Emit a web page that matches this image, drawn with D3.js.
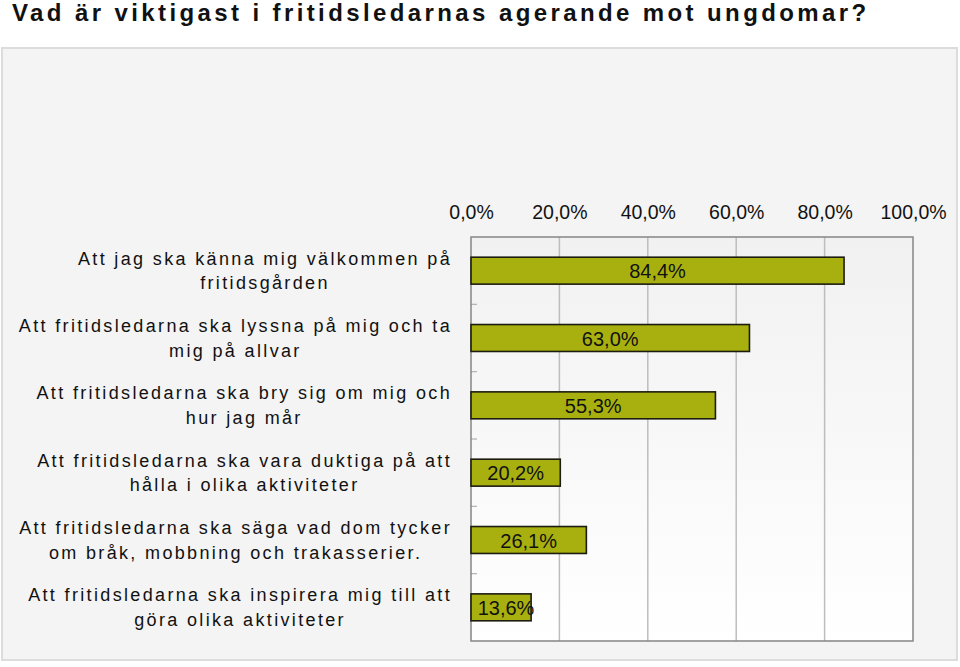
<!DOCTYPE html>
<html>
<head>
<meta charset="utf-8">
<script src="https://cdn.jsdelivr.net/npm/d3@7"></script>
<style>
  html, body { margin: 0; padding: 0; background: #ffffff; }
  svg { display: block; }
</style>
</head>
<body>
<svg id="chart" width="960" height="667"></svg>
<script>
const title = "Vad är viktigast i fritidsledarnas agerande mot ungdomar?";
const categories = [
  ["Att jag ska känna mig välkommen på", "fritidsgården"],
  ["Att fritidsledarna ska lyssna på mig och ta", "mig på allvar"],
  ["Att fritidsledarna ska bry sig om mig och", "hur jag mår"],
  ["Att fritidsledarna ska vara duktiga på att", "hålla i olika aktiviteter"],
  ["Att fritidsledarna ska säga vad dom tycker", "om bråk, mobbning och trakasserier."],
  ["Att fritidsledarna ska inspirera mig till att", "göra olika aktiviteter"]
];
const values = [84.4, 63.0, 55.3, 20.2, 26.1, 13.6];
const tickValues = [0, 20, 40, 60, 80, 100];

const fmt = v => v.toFixed(1).replace(".", ",") + "%";

(function () {
const svg = d3.select("#chart");
const defs = svg.append("defs");
const grad = defs.append("linearGradient").attr("id", "plotbg")
  .attr("x1", 0).attr("y1", 0).attr("x2", 0).attr("y2", 1);
grad.append("stop").attr("offset", "0%").attr("stop-color", "#f1f1f1");
grad.append("stop").attr("offset", "100%").attr("stop-color", "#ffffff");

// outer panel
svg.append("rect").attr("x", 2).attr("y", 48).attr("width", 955).attr("height", 612)
  .attr("fill", "#f4f4f4").attr("stroke", "#dcdcdc").attr("stroke-width", 2);

// title
svg.append("text").attr("x", 12).attr("y", 20.5)
  .attr("font-family", "'Liberation Sans', Arial, sans-serif")
  .attr("font-weight", "bold").attr("font-size", 24).attr("fill", "#111")
  .attr("letter-spacing", 1.8)
  .attr("textLength", 856).attr("lengthAdjust", "spacing")
  .text(title);

const pL = 471, pR = 913, pT = 237, pB = 641;
const x = d3.scaleLinear().domain([0, 100]).range([pL, pR]);
const y = d3.scaleBand().domain(d3.range(categories.length)).range([pT, pB])
  .paddingInner(0.6).paddingOuter(0.3);

// plot background
svg.append("rect").attr("x", pL).attr("y", pT).attr("width", pR - pL).attr("height", pB - pT)
  .attr("fill", "url(#plotbg)");

// gridlines
svg.append("g").selectAll("line").data(tickValues.slice(1, -1)).join("line")
  .attr("x1", d => x(d)).attr("x2", d => x(d)).attr("y1", pT).attr("y2", pB)
  .attr("stroke", "#bdbdbd").attr("stroke-width", 1.5);

// small category ticks inside the left axis
const boundaries = d3.range(1, categories.length).map(i => y(i) - y.step() * y.paddingInner() / 2);
svg.append("g").selectAll("line").data(boundaries).join("line")
  .attr("x1", pL).attr("x2", pL + 6).attr("y1", d => d).attr("y2", d => d)
  .attr("stroke", "#b0b0b0").attr("stroke-width", 1.2);

// plot border
svg.append("rect").attr("x", pL).attr("y", pT).attr("width", pR - pL).attr("height", pB - pT)
  .attr("fill", "none").attr("stroke", "#858585").attr("stroke-width", 1.5);

// top axis labels
const axis = d3.axisTop(x).tickValues(tickValues).tickSize(0).tickPadding(0).tickFormat(fmt);
const gA = svg.append("g").attr("transform", `translate(0,219)`).call(axis);
gA.select(".domain").remove();
gA.selectAll("text").attr("font-family", "'Liberation Sans', Arial, sans-serif")
  .attr("font-size", 19.5).attr("fill", "#111").attr("dy", 0);

// bars
svg.append("g").selectAll("rect").data(values).join("rect")
  .attr("x", x(0)).attr("y", (d, i) => y(i))
  .attr("width", d => x(d) - x(0)).attr("height", y.bandwidth())
  .attr("fill", "#a8b00f").attr("stroke", "#1c1c10").attr("stroke-width", 1.6);

// value labels
svg.append("g").selectAll("text").data(values).join("text")
  .attr("x", d => (x(0) + x(d)) / 2 + (d < 15 ? 5 : 0))
  .attr("y", (d, i) => y(i) + y.bandwidth() / 2 + 7.5)
  .attr("text-anchor", "middle")
  .attr("font-family", "'Liberation Sans', Arial, sans-serif")
  .attr("font-size", 20).attr("fill", "#111")
  .text(fmt);

// category labels (centered blocks, right edge at 451)
const labelRight = 451;
const gL = svg.append("g");
categories.forEach((lines, i) => {
  const cy = y(i) + y.bandwidth() / 2;
  const t = gL.append("text")
    .attr("font-family", "'Liberation Sans', Arial, sans-serif")
    .attr("font-size", 18).attr("fill", "#111")
    .attr("letter-spacing", 2.35);
  const spans = lines.map((ln, j) => t.append("tspan").attr("x", 0)
    .attr("y", cy - 12.5 + j * 24.5 + 6.5).text(ln));
  const maxW = d3.max(spans, s => s.node().getComputedTextLength());
  const cx = labelRight + 1 - maxW / 2;
  t.attr("text-anchor", "middle");
  spans.forEach(s => s.attr("x", cx));
});
})();
</script>
</body>
</html>
